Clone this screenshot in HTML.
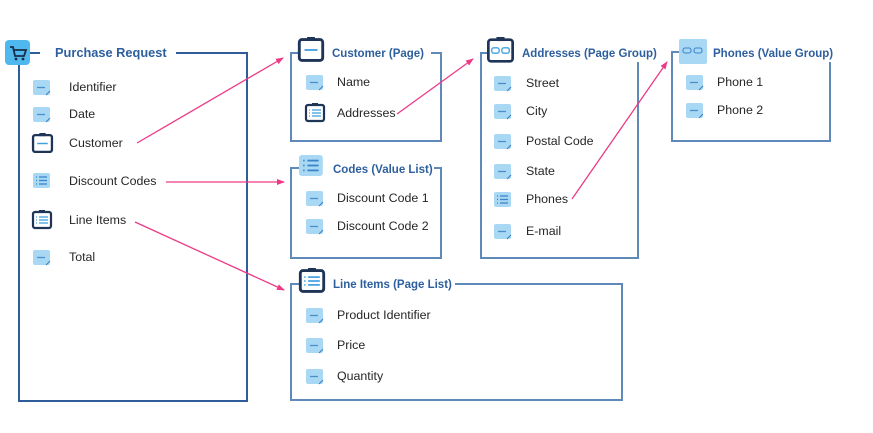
<!DOCTYPE html>
<html><head><meta charset="utf-8"><style>
html,body{margin:0;padding:0;background:#fff;width:873px;height:433px;overflow:hidden}
text{font-family:"Liberation Sans",sans-serif;font-size:12.4px;fill:#262626}
.t{fill:#2d5f9e;font-weight:bold;font-size:11.5px}
.b{fill:none;stroke:#5f89b8;stroke-width:2}
.a{stroke:#ec3a86;stroke-width:1.3;fill:none}
</style></head><body>
<svg width="873" height="433" xmlns="http://www.w3.org/2000/svg">
<defs>
<g id="f"><rect x="0" y="0" width="17" height="15" rx="2" fill="#a9d8f5"/><line x1="4" y1="7.5" x2="12" y2="7.5" stroke="#4a8fc8" stroke-width="1.3"/><path d="M13 15 L17 11" stroke="#3b7fc0" stroke-width="1"/></g>
<g id="l"><rect x="0" y="0" width="17" height="15" rx="2" fill="#a9d8f5"/><g stroke="#3b86c8" stroke-width="1.3"><line x1="3" y1="4" x2="4" y2="4"/><line x1="6" y1="4" x2="14" y2="4"/><line x1="3" y1="7.5" x2="4" y2="7.5"/><line x1="6" y1="7.5" x2="14" y2="7.5"/><line x1="3" y1="11" x2="4" y2="11"/><line x1="6" y1="11" x2="14" y2="11"/></g></g>
<g id="p"><rect x="1" y="2" width="18" height="16" rx="2" fill="#fff" stroke="#1f3558" stroke-width="2.2"/><rect x="7" y="0" width="6" height="3" fill="#1f3558"/><line x1="5" y1="10" x2="15" y2="10" stroke="#3fa0e0" stroke-width="1.4"/></g>
<g id="pl"><rect x="1" y="2" width="18" height="16" rx="2" fill="#fff" stroke="#1f3558" stroke-width="2.2"/><rect x="7" y="0" width="6" height="3" fill="#1f3558"/><g stroke="#3fa0e0" stroke-width="1.3"><line x1="4" y1="7" x2="5" y2="7"/><line x1="7" y1="7" x2="16" y2="7"/><line x1="4" y1="10" x2="5" y2="10"/><line x1="7" y1="10" x2="16" y2="10"/><line x1="4" y1="13" x2="5" y2="13"/><line x1="7" y1="13" x2="16" y2="13"/></g></g>
<marker id="ar" markerWidth="8" markerHeight="8" refX="7" refY="4" orient="auto" markerUnits="userSpaceOnUse"><path d="M0 1 L8 4 L0 7 Z" fill="#ec3a86"/></marker>
</defs>

<!-- Purchase Request -->
<path d="M40 53 H30 M19 64 V401 H247 V53 H176" class="b" style="stroke:#2f5d99"/>
<rect x="5" y="40" width="25" height="25" rx="4" fill="#4fb8ee"/>
<path d="M10 47 H13 L15 56 H24 L26 50 H14" fill="none" stroke="#1b2c48" stroke-width="1.8"/>
<circle cx="16" cy="59" r="1.4" fill="#1b2c48"/><circle cx="23" cy="59" r="1.4" fill="#1b2c48"/>
<text x="55" y="57" class="t" style="font-size:12.8px">Purchase Request</text>
<use href="#f" x="33" y="80"/><text x="69" y="91">Identifier</text>
<use href="#f" x="33" y="107"/><text x="69" y="118">Date</text>
<g transform="translate(32,133) scale(1.05)"><use href="#p"/></g><text x="69" y="147">Customer</text>
<use href="#l" x="33" y="173"/><text x="69" y="185">Discount Codes</text>
<use href="#pl" x="32" y="210"/><text x="69" y="224">Line Items</text>
<use href="#f" x="33" y="250"/><text x="69" y="261">Total</text>

<!-- Customer (Page) -->
<path d="M299 53 H291 V141 H441 V53 H431" class="b"/>
<g transform="translate(298,37) scale(1.3)"><use href="#p"/></g>
<text x="332" y="57" class="t">Customer (Page)</text>
<use href="#f" x="306" y="75"/><text x="337" y="86">Name</text>
<use href="#pl" x="305" y="103"/><text x="337" y="117">Addresses</text>

<!-- Codes -->
<path d="M299 168 H291 V258 H441 V168 H434" class="b"/>
<g transform="translate(299,155) scale(1.4)"><use href="#l"/></g>
<text x="333" y="173" class="t">Codes (Value List)</text>
<use href="#f" x="306" y="191"/><text x="337" y="202">Discount Code 1</text>
<use href="#f" x="306" y="219"/><text x="337" y="230">Discount Code 2</text>

<!-- Line Items -->
<path d="M300 284 H291 V400 H622 V284 H455" class="b"/>
<g transform="translate(299,268) scale(1.3)"><use href="#pl"/></g>
<text x="333" y="288" class="t">Line Items (Page List)</text>
<use href="#f" x="306" y="308"/><text x="337" y="319">Product Identifier</text>
<use href="#f" x="306" y="338"/><text x="337" y="349">Price</text>
<use href="#f" x="306" y="369"/><text x="337" y="380">Quantity</text>

<!-- Addresses -->
<path d="M487 53 H481 V258 H638 V62" class="b"/>
<g transform="translate(487,37) scale(1.35)"><rect x="1" y="2" width="18" height="16" rx="2" fill="#fff" stroke="#1f3558" stroke-width="2"/><rect x="7" y="0" width="6" height="3" fill="#1f3558"/><rect x="3.5" y="8" width="5.5" height="4" rx="1.5" fill="none" stroke="#3fa0e0" stroke-width="1"/><rect x="11" y="8" width="5.5" height="4" rx="1.5" fill="none" stroke="#3fa0e0" stroke-width="1"/></g>
<text x="522" y="57" class="t">Addresses (Page Group)</text>
<use href="#f" x="494" y="76"/><text x="526" y="87">Street</text>
<use href="#f" x="494" y="104"/><text x="526" y="115">City</text>
<use href="#f" x="494" y="134"/><text x="526" y="145">Postal Code</text>
<use href="#f" x="494" y="164"/><text x="526" y="175">State</text>
<use href="#l" x="494" y="192"/><text x="526" y="203">Phones</text>
<use href="#f" x="494" y="224"/><text x="526" y="235">E-mail</text>

<!-- Phones -->
<path d="M679 52 H672 V141 H830 V62" class="b"/>
<rect x="679" y="39" width="28" height="25" rx="2" fill="#a9d8f5"/>
<rect x="683" y="48" width="8" height="5" rx="2" fill="none" stroke="#3b86c8" stroke-width="1.1"/><rect x="694" y="48" width="8" height="5" rx="2" fill="none" stroke="#3b86c8" stroke-width="1.1"/>
<text x="713" y="57" class="t">Phones (Value Group)</text>
<use href="#f" x="686" y="75"/><text x="717" y="86">Phone 1</text>
<use href="#f" x="686" y="103"/><text x="717" y="114">Phone 2</text>

<!-- arrows -->
<line x1="137" y1="143" x2="283" y2="58" class="a" marker-end="url(#ar)"/>
<line x1="166" y1="182" x2="284" y2="182" class="a" marker-end="url(#ar)"/>
<line x1="135" y1="222" x2="284" y2="290" class="a" marker-end="url(#ar)"/>
<line x1="397" y1="114" x2="473" y2="59" class="a" marker-end="url(#ar)"/>
<line x1="572" y1="199" x2="667" y2="62" class="a" marker-end="url(#ar)"/>
</svg>
</body></html>
